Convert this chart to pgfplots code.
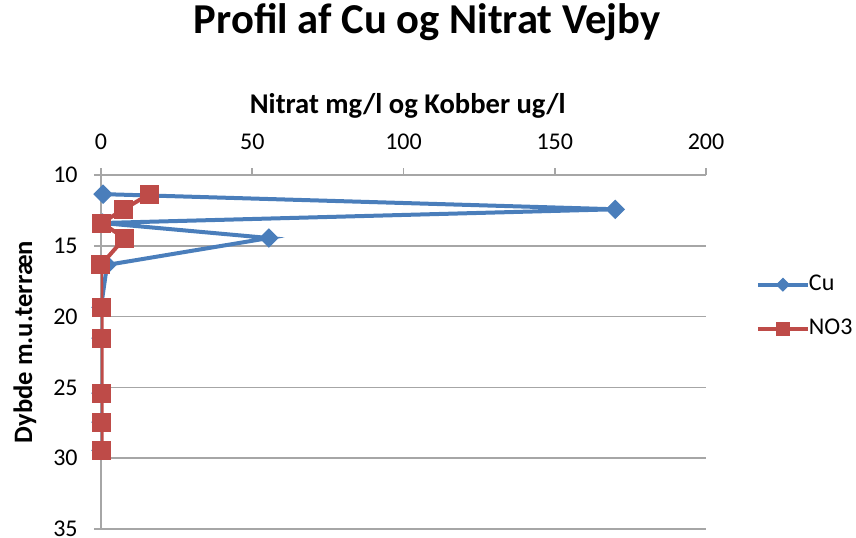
\documentclass[border=0pt]{standalone}
\usepackage{fontspec}
\setmainfont{Carlito}
\usepackage{pgfplots}
\pgfplotsset{compat=1.18}
\definecolor{cuBlue}{HTML}{4A7EBB}
\definecolor{noRed}{HTML}{BE4B48}
\definecolor{axGray}{HTML}{A6A6A6}
\begin{document}
\fontsize{12}{14}\selectfont
\begin{tikzpicture}
\useasboundingbox (-50.5pt,-4pt) rectangle (377.5pt,264.5pt);
\begin{axis}[
  at={(0pt,0pt)}, anchor=south west,
  scale only axis, width=302.5pt, height=177pt,
  xmin=0, xmax=200, ymin=10, ymax=35, y dir=reverse,
  axis x line=top, axis y line=left, axis line style={-, axGray, line width=0.8pt},
  xtick={0,50,...,200}, ytick={10,15,...,35},
  tick align=outside, major tick length=3.5pt,
  tick style={axGray, line width=0.8pt},
  ymajorgrids, grid style={axGray, line width=0.8pt},
  ticklabel style={font=\fontsize{12}{14}\selectfont},
  xticklabel style={yshift=5pt},
  yticklabel style={xshift=-4pt},
  /pgf/number format/assume math mode=true,
  title={Profil af Cu og Nitrat Vejby},
  title style={at={(axis description cs:0.539,1.367)}, anchor=base, yshift=0pt, font=\bfseries\fontsize{21.3}{25}\selectfont},
  xlabel={Nitrat mg/l og Kobber ug/l},
  xlabel style={at={(axis description cs:0.507,1.175)}, anchor=base, font=\bfseries\fontsize{14.3}{17}\selectfont},
  ylabel={Dybde m.u.terræn},
  ylabel style={at={(axis description cs:-0.126,0.528)}, anchor=center, font=\bfseries\fontsize{13.3}{16}\selectfont},
  legend style={draw=none, fill=none, at={(axis description cs:1.072,0.741)}, anchor=north west, row sep=8.5pt, column sep=-2.5pt, font=\fontsize{12}{14}\selectfont, cells={anchor=west}},
  legend image code/.code={\draw[mark repeat=2, mark phase=2, #1, every mark/.append style={scale=0.7}] plot coordinates {(0pt,0pt) (12.5pt,0pt) (25pt,0pt)};},
]
\addplot[cuBlue, line width=2pt, mark=square*, mark size=3.2pt, mark options={rotate=45, fill=cuBlue, draw=cuBlue, line width=0.5pt}]
  coordinates {(0.7,11.35) (170,12.42) (0.5,13.39) (55.5,14.45) (2,16.35) (0,19.34) (0,21.52) (0,25.4) (0,27.45) (0,29.45)};
\addlegendentry{Cu}
\addplot[noRed, line width=2pt, mark=square*, mark size=4.5pt, mark options={fill=noRed, draw=noRed, line width=0.5pt}]
  coordinates {(16,11.35) (7.5,12.42) (0.2,13.39) (7.8,14.45) (0,16.35) (0.2,19.34) (0.2,21.52) (0.2,25.4) (0.2,27.45) (0.2,29.45)};
\addlegendentry{NO3}
\end{axis}
\end{tikzpicture}
\end{document}
